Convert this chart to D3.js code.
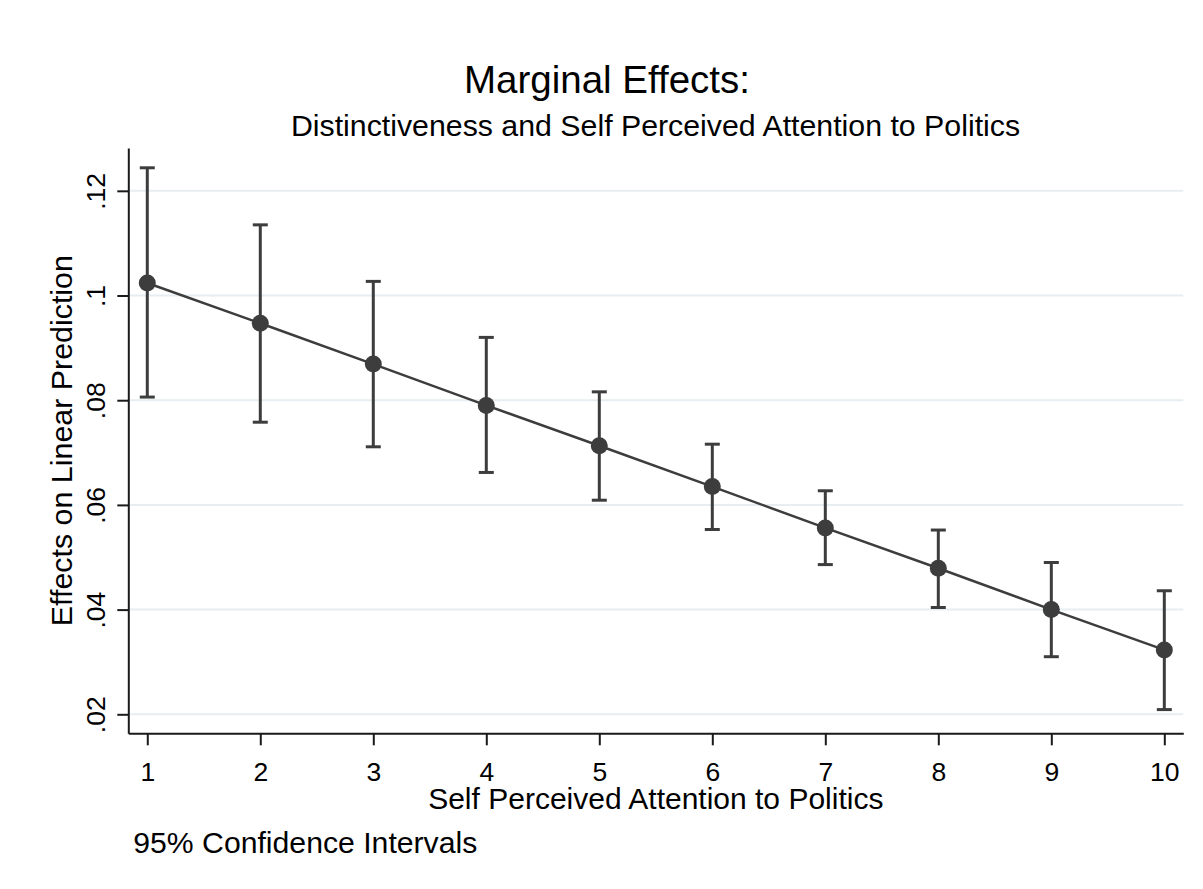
<!DOCTYPE html>
<html>
<head>
<meta charset="utf-8">
<script src="https://cdn.jsdelivr.net/npm/d3@7"></script>
<style>
  html, body { margin: 0; padding: 0; background: #ffffff; }
  svg { display: block; }
  text { font-family: "Liberation Sans", Arial, Helvetica, sans-serif; fill: #000; }
</style>
</head>
<body>
<svg id="chart" width="1203" height="889"></svg>
<script>
// ---- Data ----
const categories = [1, 2, 3, 4, 5, 6, 7, 8, 9, 10];
const margins = [0.1024, 0.0947, 0.0869, 0.0790, 0.0713, 0.0635, 0.0556, 0.0479, 0.0400, 0.0323];
const ciLower = [0.0806, 0.0758, 0.0711, 0.0662, 0.0609, 0.0553, 0.0486, 0.0404, 0.0310, 0.0209];
const ciUpper = [0.1244, 0.1135, 0.1027, 0.0920, 0.0816, 0.0716, 0.0627, 0.0552, 0.0490, 0.0436];
const yTicks = [0.02, 0.04, 0.06, 0.08, 0.10, 0.12];
const yTickLabels = [".02", ".04", ".06", ".08", ".1", ".12"];
const xTickLabels = ["1", "2", "3", "4", "5", "6", "7", "8", "9", "10"];

const titleText = "Marginal Effects:";
const subtitleText = "Distinctiveness and Self Perceived Attention to Politics";
const xTitleText = "Self Perceived Attention to Politics";
const yTitleText = "Effects on Linear Prediction";
const noteText = "95% Confidence Intervals";

// ---- Layout ----
const plotLeft = 128.3, plotRight = 1183.3, plotTop = 148, plotBottom = 733.3;
const markColor = "#3d3d3d";

const svg = d3.select("#chart");
svg.append("rect").attr("width", 1203).attr("height", 889).attr("fill", "#ffffff");

const x = d3.scaleLinear().domain([0.832, 10.168]).range([plotLeft, plotRight]);
const y = d3.scaleLinear().domain([0.01637, 0.12818]).range([plotBottom, plotTop]);

// Gridlines
svg.append("g").selectAll("line").data(yTicks).join("line")
  .attr("x1", plotLeft + 1).attr("x2", plotRight)
  .attr("y1", d => y(d)).attr("y2", d => y(d))
  .attr("stroke", "#e6eef1").attr("stroke-width", 2);

// X axis
const xAxis = svg.append("g")
  .attr("transform", `translate(0,${plotBottom})`)
  .call(d3.axisBottom(x).tickValues(categories).tickFormat((d, i) => xTickLabels[i])
    .tickSize(12).tickSizeOuter(0));
xAxis.select(".domain").attr("stroke", "#1a1a1a").attr("stroke-width", 2);
xAxis.selectAll(".tick line").attr("stroke", "#1a1a1a").attr("stroke-width", 2);
xAxis.selectAll(".tick text")
  .attr("y", 47.5).attr("dy", null)
  .attr("font-size", 26.5).attr("fill", "#000")
  .style("font-family", "'Liberation Sans', Arial, sans-serif");

// Y axis
const yAxis = svg.append("g")
  .attr("transform", `translate(${plotLeft},0)`)
  .call(d3.axisLeft(y).tickValues(yTicks).tickFormat((d, i) => yTickLabels[i])
    .tickSize(11).tickSizeOuter(0));
yAxis.select(".domain").attr("stroke", "#1a1a1a").attr("stroke-width", 2);
yAxis.selectAll(".tick line").attr("stroke", "#1a1a1a").attr("stroke-width", 2);
yAxis.selectAll(".tick text")
  .attr("x", null).attr("dy", null)
  .attr("transform", "translate(-23,0) rotate(-90)")
  .attr("text-anchor", "middle")
  .attr("font-size", 26.5).attr("fill", "#000")
  .style("font-family", "'Liberation Sans', Arial, sans-serif");

// Error bars
const bars = svg.append("g");
categories.forEach((c, i) => {
  const cx = x(c);
  bars.append("line")
    .attr("x1", cx).attr("x2", cx)
    .attr("y1", y(ciLower[i])).attr("y2", y(ciUpper[i]))
    .attr("stroke", markColor).attr("stroke-width", 3);
  [ciLower[i], ciUpper[i]].forEach(v => {
    bars.append("line")
      .attr("x1", cx - 7.5).attr("x2", cx + 7.5)
      .attr("y1", y(v)).attr("y2", y(v))
      .attr("stroke", markColor).attr("stroke-width", 3);
  });
});

// Line
const line = d3.line().x((d, i) => x(categories[i])).y(d => y(d));
svg.append("path").datum(margins)
  .attr("d", line)
  .attr("fill", "none").attr("stroke", markColor).attr("stroke-width", 2.5);

// Markers
svg.append("g").selectAll("circle").data(margins).join("circle")
  .attr("cx", (d, i) => x(categories[i])).attr("cy", d => y(d))
  .attr("r", 8.5).attr("fill", markColor);

// Titles
svg.append("text").attr("x", 607).attr("y", 93)
  .attr("text-anchor", "middle").attr("font-size", 38.5).text(titleText);
svg.append("text").attr("x", 655.5).attr("y", 136)
  .attr("text-anchor", "middle").attr("font-size", 30.3).text(subtitleText);
svg.append("text").attr("x", (plotLeft + plotRight) / 2).attr("y", 809)
  .attr("text-anchor", "middle").attr("font-size", 30).text(xTitleText);
svg.append("text")
  .attr("transform", `translate(72,${(plotTop + plotBottom) / 2}) rotate(-90)`)
  .attr("text-anchor", "middle").attr("font-size", 30.4).text(yTitleText);
svg.append("text").attr("x", 133.3).attr("y", 853)
  .attr("font-size", 30.2).text(noteText);
</script>
</body>
</html>
